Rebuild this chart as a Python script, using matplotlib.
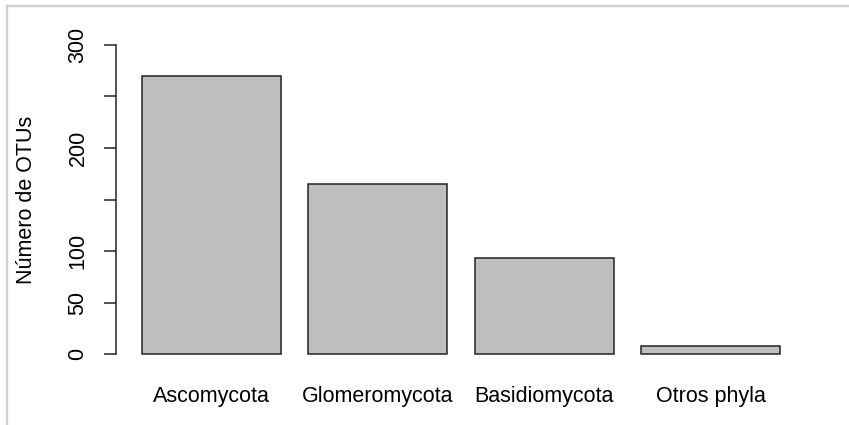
import numpy as np
import matplotlib
matplotlib.use("Agg")
import matplotlib.pyplot as plt
from matplotlib.lines import Line2D

plt.rcParams['font.family'] = ['Liberation Sans', 'DejaVu Sans']

phyla = ["Ascomycota", "Glomeromycota", "Basidiomycota", "Otros phyla"]
otus = [270, 165, 93, 8]
yticks = [0, 50, 100, 200, 300]

W, H = 849, 425
fig = plt.figure(figsize=(W / 100, H / 100), dpi=100)

# bar layout like R barplot: width 1, space 0.2
width = 1.0
space = 0.2
centers = np.arange(len(phyla)) * (width + space) + space + width / 2
x_lo, x_hi = space, centers[-1] + width / 2
pad_x = 0.04 * (x_hi - x_lo)
pad_y = 0.04 * 300

left, right = 116.4 / W, 805.6 / W
bottom, top = 1 - 366.4 / H, 1 - 32.6 / H
ax = fig.add_axes([left, bottom, right - left, top - bottom])

ax.bar(centers, otus, width=width, color="#BEBEBE", edgecolor="#222222", linewidth=1.1)
ax.set_xlim(x_lo - pad_x, x_hi + pad_x)
ax.set_ylim(-pad_y, 300 + pad_y)

for s in ["top", "right", "bottom"]:
    ax.spines[s].set_visible(False)
ax.spines["left"].set_bounds(0, 300)
ax.spines["left"].set_color("#222222")
ax.spines["left"].set_linewidth(1.1)

ax.set_yticks(yticks)
ax.set_yticks([150, 250], minor=True)
ax.set_yticklabels([str(v) for v in yticks], rotation=90, va="center", fontsize=15.5)
ax.tick_params(axis="y", which="both", length=8.6, width=1.1, color="#222222", pad=11.5)
ax.set_xticks(centers)
ax.set_xticklabels(phyla, fontsize=15.5)
ax.tick_params(axis="x", length=0, pad=14)

fig.text(27 / W, 1 - 199.5 / H, "Número de OTUs", rotation=90, ha="center", va="center", fontsize=15.5)

# light frame along top and left edges
fig.add_artist(Line2D([7 / W, 1], [1 - 5.5 / H, 1 - 5.5 / H], transform=fig.transFigure, color="#D0D0D0", lw=1.6))
fig.add_artist(Line2D([7 / W, 7 / W], [0, 1 - 5.5 / H], transform=fig.transFigure, color="#D0D0D0", lw=1.6))

fig.savefig("out.png", dpi=100)
